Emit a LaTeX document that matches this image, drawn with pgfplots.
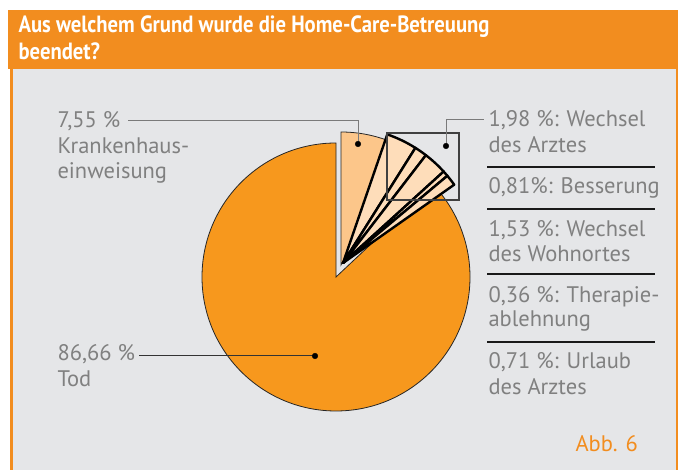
\documentclass[border=0pt]{standalone}
\usepackage{pgfplots}
\pgfplotsset{compat=1.18}
\usepackage{pgfplotstable}
\usepackage{fontspec}
\setmainfont{PT Sans}
\newfontfamily\titlefont[FakeStretch=0.88]{PT Sans}
\definecolor{bggray}{HTML}{E5E6E8}
\definecolor{titleor}{HTML}{F28D1F}
\definecolor{pieor}{HTML}{F7981D}
\definecolor{krc}{HTML}{FCC68A}
\definecolor{fanc}{HTML}{FEDDBA}
\definecolor{txtgray}{HTML}{808080}
\definecolor{leadgray}{HTML}{7A7A7A}
\pgfplotstableread{
value label
86.66 Tod
7.55 Krankenhaus
1.98 Arzt
0.81 Besserung
1.53 Wohnort
0.36 Therapie
0.71 Urlaub
}\piedata
\pgfplotstablegetelem{0}{value}\of\piedata \let\vA\pgfplotsretval
\pgfplotstablegetelem{1}{value}\of\piedata \let\vB\pgfplotsretval
\pgfplotstablegetelem{2}{value}\of\piedata \let\vC\pgfplotsretval
\pgfplotstablegetelem{3}{value}\of\piedata \let\vD\pgfplotsretval
\pgfplotstablegetelem{4}{value}\of\piedata \let\vE\pgfplotsretval
\pgfplotstablegetelem{5}{value}\of\piedata \let\vF\pgfplotsretval
\pgfplotstablegetelem{6}{value}\of\piedata \let\vG\pgfplotsretval
\pgfmathsetmacro\totv{\vA+\vB+\vC+\vD+\vE+\vF+\vG}
\pgfmathsetmacro\kf{360/\totv}
\pgfmathsetmacro\endA{90+\vA*\kf}
\pgfmathsetmacro\endB{90-\vB*\kf}
\def\fanmag{1.84}
\def\angA{71}
\pgfmathsetmacro\angB{\angA-\vC*\kf*\fanmag}
\pgfmathsetmacro\angC{\angB-\vD*\kf*\fanmag}
\pgfmathsetmacro\angD{\angC-\vE*\kf*\fanmag}
\pgfmathsetmacro\angE{\angD-\vF*\kf*\fanmag}
\pgfmathsetmacro\angF{\angE-\vG*\kf*\fanmag}
\newcommand\lbl{\fontsize{22.5}{26}\selectfont}
\tikzset{fan/.style={fill=fanc, draw=black, line width=2.4pt, line join=round}}
\begin{document}%
\begin{tikzpicture}
\begin{axis}[width=683pt, height=470pt, scale only axis,
  xmin=0, xmax=683, ymin=0, ymax=470, axis lines=none, ticks=none, clip=false]
\coordinate (BL) at (axis cs:0,0);
\coordinate (TR) at (axis cs:683,470);
% frame
\fill[white] (axis cs:0,0) rectangle (axis cs:683,470);
\fill[bggray] (axis cs:10,0) rectangle (axis cs:678,401);
\fill[titleor] (axis cs:8,401) rectangle (axis cs:678,460);
\fill[titleor] (axis cs:10,0) rectangle (axis cs:12.5,401);
\fill[titleor] (axis cs:675.5,0) rectangle (axis cs:678,401);
\node[anchor=base west, text=white, font=\titlefont\bfseries\fontsize{23.5}{26}\selectfont] at (axis cs:15,437) {Aus welchem Grund wurde die Home-Care-Betreuung};
\node[anchor=base west, text=white, font=\titlefont\bfseries\fontsize{23.5}{26}\selectfont] at (axis cs:15,410) {beendet?};
% pie
\filldraw[fill=pieor, draw=black!85, line width=0.8pt] (axis cs:336,193) -- ++(90:134pt) arc[start angle=90, end angle=\endA, radius=134pt] -- cycle;
\filldraw[fill=krc, draw=black!85, line width=0.8pt] (axis cs:341,205) -- ++(90:133pt) arc[start angle=90, end angle=\endB, radius=133pt] -- cycle;
\filldraw[fan] (axis cs:343,207) -- ++(\angA:136pt) arc[start angle=\angA, end angle=\angB, radius=136pt] -- cycle;
\filldraw[fan] (axis cs:343,207) -- ++(\angB:136pt) arc[start angle=\angB, end angle=\angC, radius=136pt] -- cycle;
\filldraw[fan] (axis cs:343,207) -- ++(\angC:136pt) arc[start angle=\angC, end angle=\angD, radius=136pt] -- cycle;
\filldraw[fan] (axis cs:343,207) -- ++(\angD:136pt) arc[start angle=\angD, end angle=\angE, radius=136pt] -- cycle;
\filldraw[fan] (axis cs:343,207) -- ++(\angE:136pt) arc[start angle=\angE, end angle=\angF, radius=136pt] -- cycle;
\draw[black!75, line width=1.3pt] (axis cs:387,270) rectangle (axis cs:459,337);
% leaders
\draw[leadgray, line width=1pt] (axis cs:128,349) -- (axis cs:358,349) -- (axis cs:358,326);
\draw[leadgray, line width=1pt] (axis cs:446,324) -- (axis cs:446,350) -- (axis cs:484,350);
\draw[black!80, line width=1pt] (axis cs:139,114) -- (axis cs:315,114);
\addplot[only marks, mark=*, mark size=2.8pt, black] coordinates {(358,326) (446,324) (315,114)};
% separators
\draw[black!90, line width=1.2pt] (axis cs:487,303) -- (axis cs:655,303);
\draw[black!90, line width=1.2pt] (axis cs:487,261) -- (axis cs:655,261);
\draw[black!90, line width=1.2pt] (axis cs:487,196) -- (axis cs:655,196);
\draw[black!90, line width=1.2pt] (axis cs:487,128) -- (axis cs:655,128);
% labels
\node[anchor=base west, text=txtgray, font=\lbl] at (axis cs:54,342) {7,55 \%};
\node[anchor=base west, text=txtgray, font=\lbl] at (axis cs:54,316) {Krankenhaus-};
\node[anchor=base west, text=txtgray, font=\lbl] at (axis cs:54,291) {einweisung};
\node[anchor=base west, text=txtgray, font=\lbl] at (axis cs:54,109) {86,66 \%};
\node[anchor=base west, text=txtgray, font=\lbl] at (axis cs:54,83) {Tod};
\node[anchor=base west, text=txtgray, font=\lbl] at (axis cs:485,343) {1,98 \%: Wechsel};
\node[anchor=base west, text=txtgray, font=\lbl] at (axis cs:485,317) {des Arztes};
\node[anchor=base west, text=txtgray, font=\lbl] at (axis cs:485,276) {0,81\%: Besserung};
\node[anchor=base west, text=txtgray, font=\lbl] at (axis cs:485,233) {1,53 \%: Wechsel};
\node[anchor=base west, text=txtgray, font=\lbl] at (axis cs:485,208) {des Wohnortes};
\node[anchor=base west, text=txtgray, font=\lbl] at (axis cs:485,167) {0,36 \%: Therapie-};
\node[anchor=base west, text=txtgray, font=\lbl] at (axis cs:485,143) {ablehnung};
\node[anchor=base west, text=txtgray, font=\lbl] at (axis cs:485,101) {0,71 \%: Urlaub};
\node[anchor=base west, text=txtgray, font=\lbl] at (axis cs:485,75) {des Arztes};
\node[anchor=base west, text=titleor, font=\lbl] at (axis cs:572,18) {Abb. 6};
\end{axis}
\pgfresetboundingbox
\useasboundingbox (BL) rectangle (TR);
\end{tikzpicture}%
\end{document}
